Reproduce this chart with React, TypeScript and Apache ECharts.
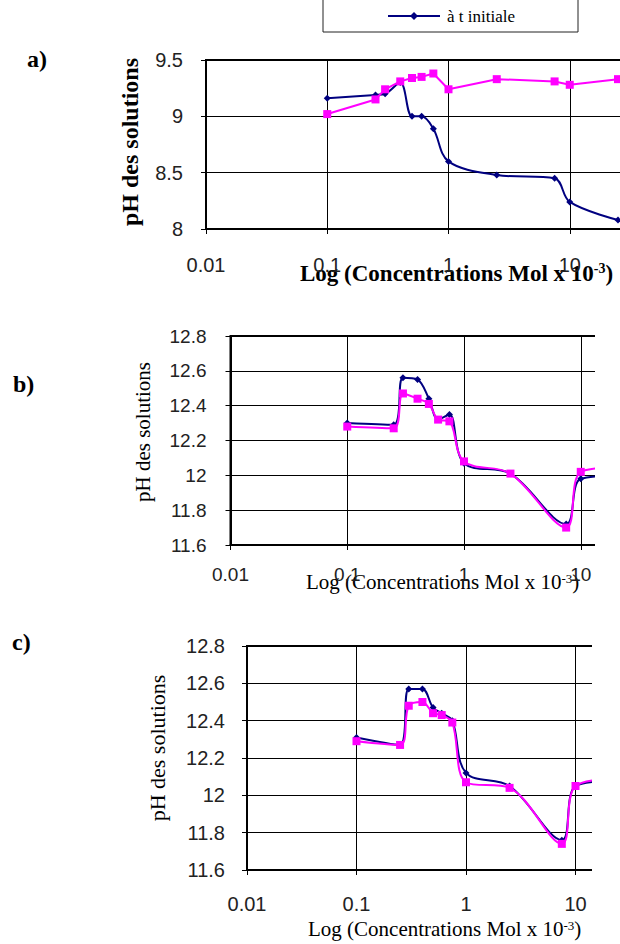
import React, { useEffect, useRef } from "react";
import * as echarts from "echarts";

// Concentrations (Mol x 10^-3), shared by the three panels
const X = [0.1, 0.25, 0.3, 0.4, 0.5, 0.6, 0.75, 1, 2.5, 7.5, 10, 25];

// Panel a)
const aInitiale = [9.16, 9.19, 9.2, 9.3, 9.0, 9.0, 8.89, 8.6, 8.48, 8.45, 8.24, 8.08];
const aFinale = [9.02, 9.15, 9.24, 9.31, 9.34, 9.35, 9.38, 9.24, 9.33, 9.31, 9.28, 9.33];
// Panel b)
const bInitiale = [12.3, 12.29, 12.56, 12.55, 12.44, 12.32, 12.35, 12.07, 12.01, 11.72, 11.98, 12.0];
const bFinale = [12.28, 12.27, 12.47, 12.44, 12.41, 12.32, 12.31, 12.08, 12.01, 11.7, 12.02, 12.05];
// Panel c)
const cInitiale = [12.31, 12.27, 12.57, 12.57, 12.47, 12.44, 12.4, 12.12, 12.05, 11.76, 12.05, 12.08];
const cFinale = [12.29, 12.27, 12.48, 12.5, 12.44, 12.43, 12.39, 12.07, 12.04, 11.74, 12.05, 12.09];

const yTicksA = [8, 9.5, 0.5];
const yTicksBC = [11.6, 12.8, 0.2];

const SERIF = '"Liberation Serif", "Times New Roman", serif';
const SANS = '"Liberation Sans", Arial, sans-serif';
const NAVY = "#000080";
const PINK = "#FF00FF";
const XTITLE = "Log (Concentrations Mol x 10{sup|-3})";

function fmtLog(v: number) {
  const r = Math.round(Math.log10(v));
  if (r >= 2) return ""; // beyond the cropped right edge
  return r < 0 ? Math.pow(10, r).toFixed(-r) : String(Math.round(Math.pow(10, r)));
}

type Panel = {
  left: number; top: number; width: number; height: number;
  yr: number[]; init: number[]; fin: number[]; pinkSmooth: boolean;
  labelSize: number; xMargin: number; yMargin: number; graphic: any[];
};

function build(p: Panel) {
  const axisLine = { show: true, onZero: false, lineStyle: { color: "#000", width: 2 } };
  const axisTick = { show: true, length: 5, lineStyle: { color: "#000", width: 1 } };
  const splitLine = { show: true, lineStyle: { color: "#000", width: 1 } };
  return {
    animation: false,
    grid: {
      left: p.left, top: p.top, width: p.width, height: p.height,
      outerBoundsMode: "none", containLabel: false,
      show: true, borderColor: "#000", borderWidth: 2, backgroundColor: "transparent",
    },
    xAxis: {
      type: "log", logBase: 10, min: 0.01, max: 100,
      axisLine, axisTick, splitLine, minorTick: { show: false },
      axisLabel: {
        fontFamily: SANS, fontSize: p.labelSize, color: "#222", margin: p.xMargin,
        formatter: (v: number) => fmtLog(v),
      },
    },
    yAxis: {
      type: "value", min: p.yr[0], max: p.yr[1], interval: p.yr[2],
      axisLine, axisTick, splitLine,
      axisLabel: {
        fontFamily: SANS, fontSize: p.labelSize, color: "#222", margin: p.yMargin,
        formatter: (v: number) => String(+v.toFixed(1)),
      },
    },
    series: [
      {
        type: "line", name: "à t initiale",
        data: X.map((x, i) => [x, p.init[i]]),
        smooth: 0.35, symbol: "diamond", symbolSize: 7,
        itemStyle: { color: NAVY }, lineStyle: { color: NAVY, width: 2 }, z: 3,
      },
      {
        type: "line", name: "pH final",
        data: X.map((x, i) => [x, p.fin[i]]),
        smooth: p.pinkSmooth ? 0.35 : false, symbol: "rect", symbolSize: 8,
        itemStyle: { color: PINK }, lineStyle: { color: PINK, width: 2 }, z: 4,
      },
    ],
    graphic: p.graphic,
  };
}

function txt(x: number, y: number, text: string, size: number, bold: boolean, extra: any = {}) {
  return {
    type: "text", x, y, ...extra,
    style: {
      text, fontFamily: SERIF, fontSize: size, fontWeight: bold ? "bold" : "normal",
      fill: "#000", verticalAlign: "middle", align: extra.align || "left",
      rich: {
        sup: {
          fontFamily: SERIF, fontSize: Math.round(size * 0.6), fontWeight: bold ? "bold" : "normal",
          fill: "#000", verticalAlign: "top",
        },
      },
    },
  };
}

const panelA: Panel = {
  left: 206, top: 60, width: 485, height: 169, yr: yTicksA,
  init: aInitiale, fin: aFinale, pinkSmooth: false, labelSize: 20, xMargin: 26, yMargin: 23,
  graphic: [
    { type: "rect", shape: { x: 323, y: -10, width: 255, height: 42 }, style: { fill: "#fff", stroke: "#222", lineWidth: 1 } },
    { type: "line", shape: { x1: 388, y1: 16, x2: 440, y2: 16 }, style: { stroke: NAVY, lineWidth: 2 } },
    { type: "polygon", shape: { points: [[414, 12], [418, 16], [414, 20], [410, 16]] }, style: { fill: NAVY } },
    txt(447, 16, "à t initiale", 17, false),
    txt(27, 59, "a)", 24, true),
    txt(130, 142, "pH des solutions", 24, true, { rotation: Math.PI / 2, align: "center" }),
    txt(300, 273, XTITLE, 23, true),
  ],
};

const panelB: Panel = {
  left: 230.5, top: 336, width: 467, height: 209, yr: yTicksBC,
  init: bInitiale, fin: bFinale, pinkSmooth: true, labelSize: 19, xMargin: 20, yMargin: 24,
  graphic: [
    txt(13, 384, "b)", 24, true),
    txt(143, 432, "pH des solutions", 21, false, { rotation: Math.PI / 2, align: "center" }),
    txt(306, 582, XTITLE, 21, false),
  ],
};

const panelC: Panel = {
  left: 247, top: 646, width: 438, height: 224, yr: yTicksBC,
  init: cInitiale, fin: cFinale, pinkSmooth: true, labelSize: 20, xMargin: 24, yMargin: 22,
  graphic: [
    txt(12, 642, "c)", 24, true),
    txt(157, 748, "pH des solutions", 22, false, { rotation: Math.PI / 2, align: "center" }),
    txt(308, 929, XTITLE, 21, false),
  ],
};

function Chart({ panel, width }: { panel: Panel; width: number }) {
  const ref = useRef<HTMLDivElement>(null);
  useEffect(() => {
    if (!ref.current) return;
    const chart = echarts.init(ref.current, undefined, { renderer: "svg" });
    chart.setOption(build(panel) as any);
    return () => chart.dispose();
  }, [panel]);
  return (
    <div
      ref={ref}
      style={{ position: "absolute", left: 0, top: 0, width, height: 944, overflow: "hidden" }}
    />
  );
}

export default function App() {
  return (
    <div style={{ position: "absolute", left: 0, top: 0, width: 620, height: 944, background: "#fff", overflow: "hidden" }}>
      <Chart panel={panelA} width={620} />
      <Chart panel={panelB} width={595} />
      <Chart panel={panelC} width={592} />
    </div>
  );
}
